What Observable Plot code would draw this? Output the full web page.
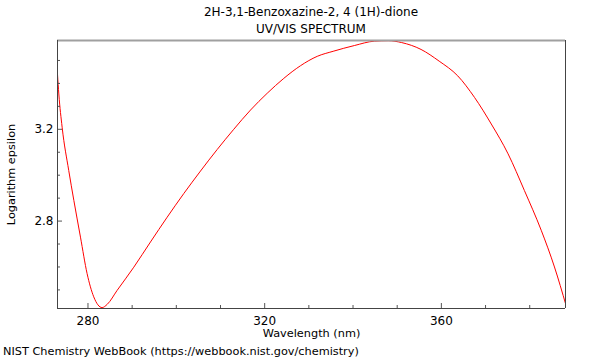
<!DOCTYPE html>
<html>
<head>
<meta charset="utf-8">
<script src="https://cdn.jsdelivr.net/npm/d3@7"></script>
<script src="https://cdn.jsdelivr.net/npm/@observablehq/plot@0.6"></script>
<style>
  body { margin: 0; background: #fff; font-family: "DejaVu Sans", sans-serif; color: #000; }
  #wrap { width: 600px; height: 360px; position: relative; }
  #title { width: 578px; padding: 4px 0 0 22px; text-align: center; font-size: 12px; line-height: 17px; height: 34px; }
  #caption { padding-left: 3px; font-size: 11.3px; line-height: 14px; white-space: nowrap; }
  svg { display: block; }
</style>
</head>
<body>
<div id="wrap">
  <div id="title">2H-3,1-Benzoxazine-2, 4 (1H)-dione<br>UV/VIS SPECTRUM</div>
  <div id="chart"></div>
  <div id="caption">NIST Chemistry WebBook (https://webbook.nist.gov/chemistry)</div>
</div>
<script>
const wavelength = [273.1, 273.4, 274.15, 275.65, 276.8, 278.3, 279.8, 281.3, 283.2, 284.35, 286.6, 290.37, 294.15, 297.93, 301.69, 305.47, 309.25, 313.0, 316.8, 320.57, 324.33, 328.1, 331.9, 335.5, 340.3, 344.8, 348.0, 351.0, 355.4, 359.5, 363.7, 367.5, 371.3, 375.1, 378.8, 382.6, 385.6, 388.2];
const logEpsilon = [3.440, 3.354, 3.209, 3.020, 2.890, 2.730, 2.571, 2.470, 2.423, 2.437, 2.498, 2.599, 2.709, 2.817, 2.920, 3.018, 3.112, 3.200, 3.284, 3.357, 3.422, 3.477, 3.518, 3.540, 3.565, 3.584, 3.586, 3.578, 3.548, 3.497, 3.433, 3.339, 3.223, 3.093, 2.933, 2.760, 2.600, 2.434];

const xMajorTicks = [280, 320, 360];
const xMinorTicks = [280, 290, 300, 310, 320, 330, 340, 350, 360, 370, 380];
const yMajorTicks = [2.8, 3.2];
const yMinorTicks = [2.5, 2.6, 2.7, 2.8, 2.9, 3.0, 3.1, 3.2, 3.3, 3.4, 3.5];

const xDomain = [273.1, 388.1];
const yDomain = [2.419, 3.587];

const spectrum = wavelength.map((w, i) => ({w, e: logEpsilon[i]}));

const pxX = (xDomain[1] - xDomain[0]) / 508;
const pxY = (yDomain[1] - yDomain[0]) / 268;

const chart = Plot.plot({
  width: 600,
  height: 307,
  marginTop: 2,
  marginBottom: 37,
  marginLeft: 57,
  marginRight: 35,
  style: {fontFamily: "DejaVu Sans, sans-serif", fontSize: "12px", color: "#000", background: "#fff"},
  x: {domain: xDomain},
  y: {domain: yDomain},
  marks: [
    Plot.line(spectrum, {x: "w", y: "e", stroke: "#ff0000", strokeWidth: 1, curve: "monotone-x", clip: true}),
    Plot.ruleX(xMinorTicks, {x: d => d, y1: yDomain[0], y2: d => yDomain[0] + (xMajorTicks.includes(d) ? 5 : 3) * pxY, stroke: "#555"}),
    Plot.ruleY(yMinorTicks, {y: d => d, x1: xDomain[0], x2: d => xDomain[0] + (yMajorTicks.some(t => Math.abs(t - d) < 1e-9) ? 5 : 3) * pxX, stroke: "#555"}),
    Plot.ruleY([yDomain[1]], {stroke: "#a0a0a0", strokeWidth: 2}),
    Plot.ruleY([yDomain[0]], {stroke: "#444"}),
    Plot.ruleX([xDomain[0]], {stroke: "#444"}),
    Plot.ruleX([xDomain[1]], {stroke: "#444"}),
    Plot.axisX(xMajorTicks, {tickSize: 0, tickPadding: 8, label: null, tickFormat: d => String(d)}),
    Plot.axisY(yMajorTicks, {tickSize: 0, tickPadding: 4, label: null, tickFormat: d => d.toFixed(1)}),
    Plot.text(["Wavelength (nm)"], {frameAnchor: "bottom", lineAnchor: "middle", textAnchor: "middle", dy: 24.5, text: d => d, fill: "#000", fontSize: 11.3}),
    Plot.text(["Logarithm epsilon"], {frameAnchor: "left", lineAnchor: "middle", textAnchor: "middle", dx: -46, rotate: -90, text: d => d, fill: "#000", fontSize: 11.3})
  ]
});
document.getElementById("chart").appendChild(chart);
</script>
</body>
</html>
